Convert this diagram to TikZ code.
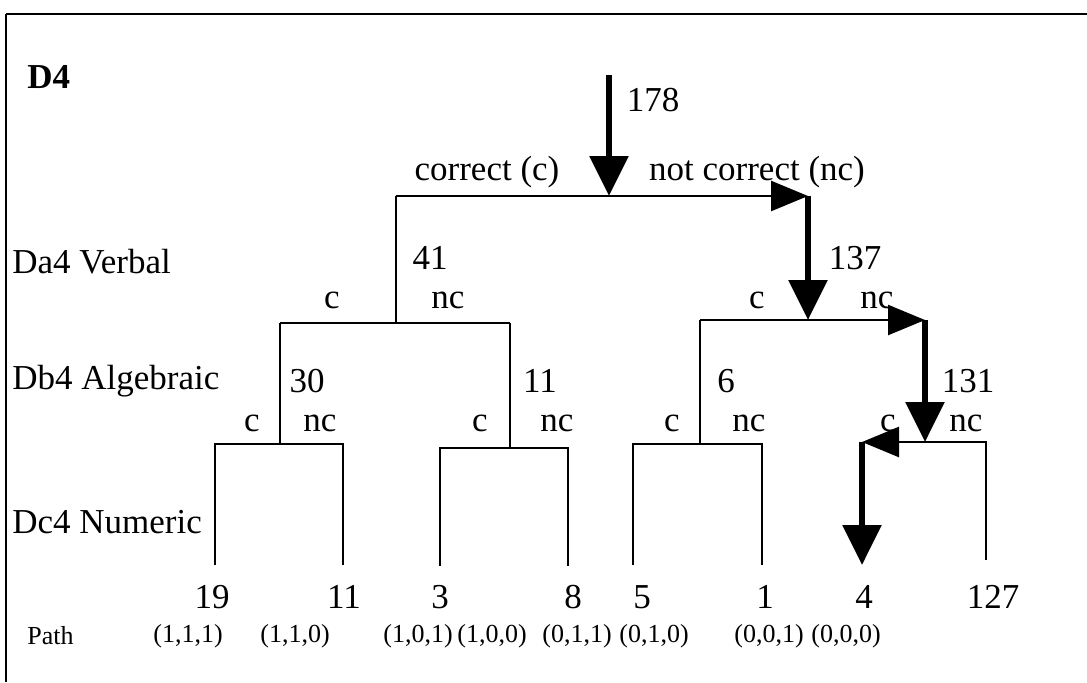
\documentclass[tikz,border=0pt]{standalone}
\usepackage{fontspec}
\setmainfont{Liberation Serif}
\usetikzlibrary{arrows.meta}
\tikzset{
  txt/.style={font=\fontsize{17.5}{20}\selectfont, inner sep=0pt},
  pathtxt/.style={font=\fontsize{13}{15}\selectfont, inner sep=0pt},
  branch/.style={line width=1.2pt, line join=miter},
  hotv/.style={line width=3pt, -{Triangle[length=20pt,width=19pt]}},
  hoth/.style={line width=1.3pt, -{Triangle[length=18.5pt,width=15pt]}},
}
\begin{document}
\begin{tikzpicture}[x=0.5pt,y=-0.5pt]
\useasboundingbox (0,0) rectangle (1087,682);
% frame
\coordinate (fb) at (6,682);
\coordinate (fc) at (6,14);
\coordinate (fr) at (1087,14);
\draw[line width=0.8pt] (fb) -- (fc);
\draw[line width=1.2pt] (fc) -- (fr);

% title and row labels
\node[txt, anchor=west, font=\fontsize{17.5}{20}\selectfont\bfseries] (title) at (27,77) {D4};
\node[txt, anchor=west] (rowa) at (12,262) {Da4 Verbal};
\node[txt, anchor=west] (rowb) at (12,381) {Db4 Algebraic};
\node[txt, anchor=west] (rowc) at (12,522) {Dc4 Numeric};

% junctions of the tree
\coordinate (top) at (609,75);
\coordinate (r) at (609,196);
\coordinate (aL) at (396,196);
\coordinate (aR) at (808,196);
\coordinate (p) at (396,323);
\coordinate (pL) at (280,323);
\coordinate (pR) at (510,323);
\coordinate (q) at (808,320);
\coordinate (qL) at (700,320);
\coordinate (qR) at (925,320);
\coordinate (pL3) at (280,444);
\coordinate (l1) at (215,444);
\coordinate (l2) at (343,444);
\coordinate (pR3) at (510,448);
\coordinate (l3) at (440,448);
\coordinate (l4) at (568,448);
\coordinate (qL3) at (700,444);
\coordinate (l5) at (633,444);
\coordinate (l6) at (762,444);
\coordinate (qR3) at (925,442);
\coordinate (l7) at (862,442);
\coordinate (l8) at (986,442);
% leaf ends
\coordinate (e1) at (215,565);
\coordinate (e2) at (343,565);
\coordinate (e3) at (440,566);
\coordinate (e4) at (568,566);
\coordinate (e5) at (633,565);
\coordinate (e6) at (762,565);
\coordinate (e7) at (862,565);
\coordinate (e8) at (986,560);

% level 1
\draw[hotv] (top) -- (r);
\draw[branch] (aL) -- (r);
\draw[hoth] (r) -- (aR);
% level 2
\draw[branch] (aL) -- (p);
\draw[branch] (pL) -- (pR);
\draw[hotv] (aR) -- (q);
\draw[branch] (qL) -- (q);
\draw[hoth] (q) -- (qR);
% level 3
\draw[branch] (pL) -- (pL3);
\draw[branch] (e1) -- (l1) -- (l2) -- (e2);
\draw[branch] (pR) -- (pR3);
\draw[branch] (e3) -- (l3) -- (l4) -- (e4);
\draw[branch] (qL) -- (qL3);
\draw[branch] (e5) -- (l5) -- (l6) -- (e6);
\draw[hotv] (qR) -- (qR3);
\draw[branch] (qR3) -- (l8) -- (e8);
\draw[hoth] (qR3) -- (l7);
\draw[hotv] (l7) -- (e7);

% counts along the branches
\node[txt] (n178) at (653,100) {178};
\node[txt] (n41) at (430,258) {41};
\node[txt] (n137) at (855,258) {137};
\node[txt] (n30) at (307,381) {30};
\node[txt] (n11) at (540,381) {11};
\node[txt] (n6) at (726,381) {6};
\node[txt] (n131) at (968,381) {131};

% branch labels
\node[txt] (lc) at (487,172) {correct (c)};
\node[txt] (lnc) at (757,172) {not correct (nc)};
\node[txt] (c2a) at (332,300) {c};
\node[txt] (nc2a) at (448,300) {nc};
\node[txt] (c2b) at (757,300) {c};
\node[txt] (nc2b) at (877,300) {nc};
\node[txt] (c3a) at (252,423) {c};
\node[txt] (nc3a) at (320,423) {nc};
\node[txt] (c3b) at (480,423) {c};
\node[txt] (nc3b) at (557,423) {nc};
\node[txt] (c3c) at (672,423) {c};
\node[txt] (nc3c) at (749,423) {nc};
\node[txt] (c3d) at (888,423) {c};
\node[txt] (nc3d) at (966,423) {nc};

% leaf counts
\node[txt] (f1) at (212,597) {19};
\node[txt] (f2) at (344,597) {11};
\node[txt] (f3) at (440,597) {3};
\node[txt] (f4) at (573,597) {8};
\node[txt] (f5) at (642,597) {5};
\node[txt] (f6) at (765,597) {1};
\node[txt] (f7) at (864,597) {4};
\node[txt] (f8) at (993,597) {127};

% path codes
\node[pathtxt, anchor=west] (pathlbl) at (27,636) {Path};
\node[pathtxt] (t1) at (188,636) {(1,1,1)};
\node[pathtxt] (t2) at (295,636) {(1,1,0)};
\node[pathtxt] (t3) at (418,636) {(1,0,1)};
\node[pathtxt] (t4) at (492,636) {(1,0,0)};
\node[pathtxt] (t5) at (577,636) {(0,1,1)};
\node[pathtxt] (t6) at (654,636) {(0,1,0)};
\node[pathtxt] (t7) at (769,636) {(0,0,1)};
\node[pathtxt] (t8) at (846,636) {(0,0,0)};
\end{tikzpicture}
\end{document}
